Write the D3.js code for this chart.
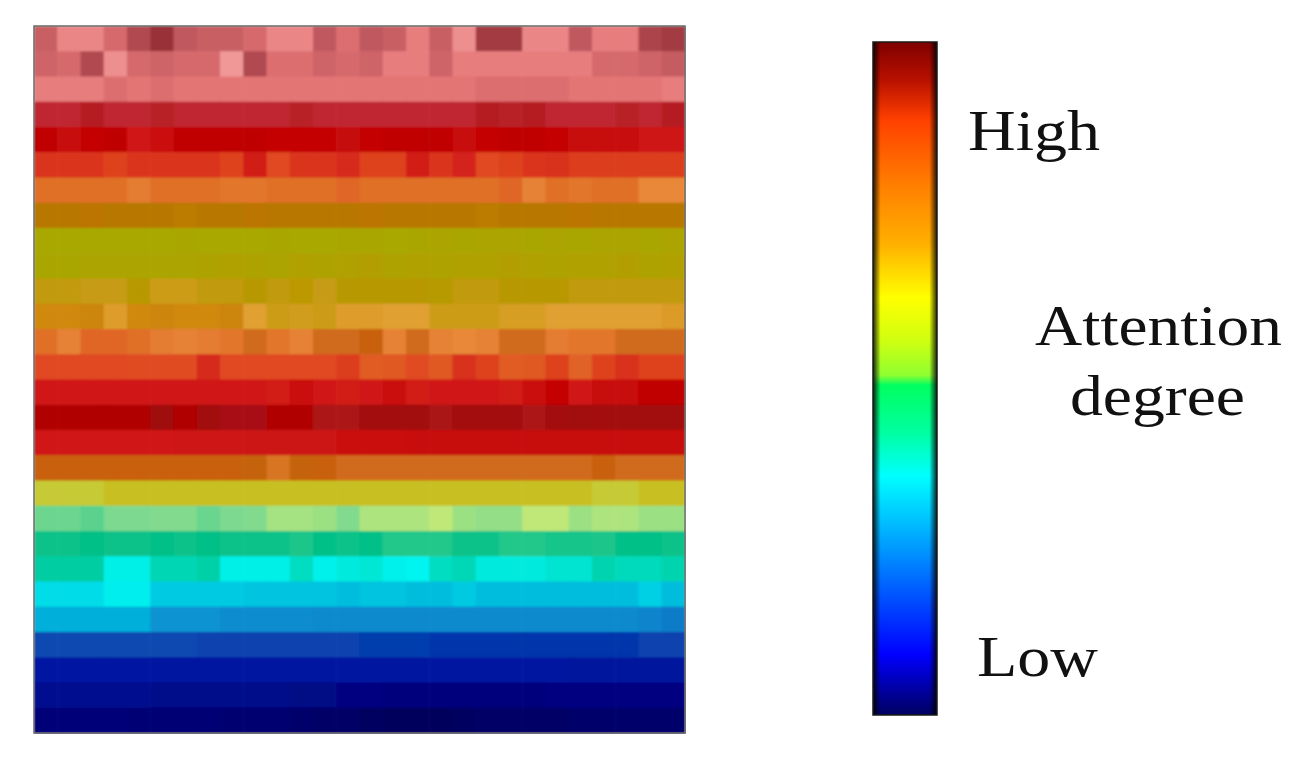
<html>

<head>
    <meta charset="utf-8">
    <title>Attention degree</title>
    <style>
        body { margin: 0; background: #ffffff; }
        text { font-family: "Liberation Serif", "DejaVu Serif", serif; fill: #111111; }
    </style>
    <script src="https://cdn.jsdelivr.net/npm/d3@7/dist/d3.min.js"></script>
</head>

<body>
    <script>
        var width = 1306;
        var height = 768;

        // one row per line, top to bottom, 28 columns each (attention value 0-100)
        var cellValues = [
            [92,98,98,94,89.5,87,91,92,92,94,98,98,91,95,91,92,97,92,99,88,88,98,98,91,97,97,89,88],
            [93,94,89.5,99,94,93,94,94,100,89.5,95,95,93,94,93,97,97,93,97,97,97,97,97,97,94,94,93,91.5],
            [97,97,97,95,96,95,96,96,96,96,96,96,96,96,96,96,96,96,96,95,95,95,95,96,96,96,96,97],
            [85,85,84.3,85,85,84.5,85,85,85,85,85,84.5,85,85,85,85,85,85,85,84.3,84.5,84.3,85,85,85,84.5,85,84.3],
            [80,78,79,80,76,77.5,80,80,80,80,79,79,79,78.5,79,80,80,80,78,79,80,80,79,78,78,78,76.5,76.5],
            [73.5,73.5,73.5,72.5,73.5,73.5,73.5,73.5,72.5,75.5,72,73.5,73.5,74.5,72.5,72.5,75.5,73.5,75,72,72.5,73.5,74,73,73,73,73,73],
            [70,70,70,70,69,70,70,70,69.5,69.5,70,70,70,70.5,70,70,70,70,70,70,70.5,68.5,70,69.5,70,70,68,68],
            [63,63,63.5,63,63,63,62.5,63,63,63.5,63,63,63,63,63.5,63,63,63,63,62.5,63,63,63,63.5,63,63,63,63],
            [48,48,48,48,48,48,48.5,48,48,48,48.5,48,48,48.5,48.5,48,48.5,49,48.5,49,49,48.5,49,48.5,49,49,48.5,49],
            [48.5,48.5,49,49,49,49,49,49.5,50,49.5,49,50,49.5,50,50.5,49.5,50,49.5,50,50,50.5,50,49.5,50,50,50.5,49.5,50],
            [53,53,53.5,53.5,52,54,54,53,53,52,53,52.5,53.5,52,52,52,52,51.5,53,53,52,52,52,53,53,53,53,53],
            [60,60,60.5,56.5,60,60.5,60,60,60.5,56,54,54.5,54,56.5,56.5,56,56,54,54,54,55,55,56,56,56,56,56,57],
            [70,68.5,70.5,70.5,70,69,68.5,69,69.5,66.5,69.5,68.5,66.5,66.5,66,68.5,66.5,68.5,68,68.5,66.5,66.5,69,69.5,69.5,66.5,66.5,66.5],
            [72,72,72,72,71.8,71.8,71.8,74.5,72,72,72,72,72,73,71,71.2,71.8,71.2,74,72.5,71,71.2,72.5,70.7,72.5,74,72.5,72.5],
            [76,76,76,76,76,76,76,76,76,76,75.5,77.5,76,75.5,76,77.5,75.5,76,76,76,75.5,77.5,79,76,78,78,80,80],
            [81.5,81.5,81.5,81.5,81.5,83,81.5,82.8,83.5,83.5,81.5,81.5,83.8,83.8,83.2,83.2,82.8,83.6,83.2,83.2,83.2,83.8,83.2,82.8,83.2,82.8,82.8,82.8],
            [76,76,76,76,76,76,76.5,76.5,76.5,77,77,77,77,77.5,77.5,77.5,78,78,78,78,78,78,78,78,78,78,78,78],
            [66,66,66,66,66,66,66,66,66,65.5,67,65.5,66,66.5,66.5,66.5,66.5,66.5,66.5,66.5,66.5,66.5,66.5,66.5,66,66.5,66.5,66.5],
            [43,43,43,44,44,44,44,44,44,44,44,44,44,44,44,44,44,44,44,44,44,44,44,44,43,43,44,44],
            [35.6,35.6,35,36.2,36.2,36.5,36.5,35.5,36.2,36.5,38.5,38.5,38,36.5,39,39,39,40,38,37.5,37.5,40,40,38,39,39,38,38],
            [32.3,32.3,32,32.3,32.3,32,32.3,32,32.3,32.3,32.3,33,32,32.3,32,33.2,33.2,33.2,32.3,32.3,33.2,33.2,32.8,32.8,33,32,32,32.3],
            [31,31,31,28.3,28.3,30.3,30.3,30.8,28.3,28.3,28.3,29.8,28.2,28.7,29,28.2,28,29.8,30.2,28.7,28.7,28.7,29.2,29.2,30.5,30,30,30.5],
            [26,26,26,27.5,27.5,24.5,24.5,24.5,24.5,24,24,24,24,23.5,24,24,23.5,23.5,24.5,23.5,23.5,23.5,23.5,23.5,23.5,23.5,25,23.5],
            [22.5,22.5,22.5,22.5,22.5,20.5,20.5,20.5,20,20,20,20,19.8,19.8,19.8,19.8,19.8,19.8,19.8,19.8,19.8,19.8,19.8,19.8,19.8,19.8,19.5,19],
            [16,16,16,16,16,16,16,15.5,15.5,15.5,15.5,15.5,15.5,15.5,15,15,15,14.5,14.5,14.5,14.5,14.5,14.5,14.5,14.5,14.5,15.5,15.5],
            [11.5,11.5,11.5,11.5,11.5,11,11,11,11,11,11,11,11,11,11,11,11,11,11,11,11,11,11,10.5,10.5,10.5,10.5,10.5],
            [7.5,7.5,7.5,7.5,7.5,7,7,7,7,7,7,6.5,6.5,6,6,5.5,5.5,5.5,5.5,5.5,5.5,5.5,6,6,6,6,6,6],
            [5,5,5,5,4.5,4.5,4.5,4.5,4,4,4,3.5,3,3,2.5,2,2,2,2.5,3,3,3,3,3.5,3.5,3.5,3.5,3.5]
        ];

        // value -> colour of the heat map cells
        var heatStops = [0, 4, 8, 12, 16, 20, 24, 28, 32, 36, 40, 44, 48, 52, 56, 60, 63, 66, 68, 70, 72, 76, 78, 80, 83, 85, 87, 91, 96, 100];
        var heatColors = ["#000048", "#000070", "#000c92", "#0018a4", "#0848b0", "#0a8cd0", "#00c4e0", "#00f4f0",
            "#00c088", "#78d890", "#c0e878", "#c8c020", "#a8a800", "#b89800", "#e0a030", "#d08810", "#b87800",
            "#c86010", "#e88838", "#e07028", "#e04820", "#d01818", "#c80c0c", "#c00000", "#a00808", "#c02830",
            "#983038", "#c05860", "#e47474", "#f09898"];

        // colour bar, 0 = top (high) .. 1 = bottom (low)
        var barOffsets = [0, 0.056, 0.116, 0.215, 0.30, 0.38, 0.443, 0.495, 0.51, 0.58, 0.645, 0.712, 0.81, 0.91, 1];
        var barColors = ["#800000", "#b81000", "#ff4000", "#ff8000", "#ffb000", "#ffff00", "#d0ff10", "#90ff30",
            "#00ff60", "#00ffa0", "#00ffff", "#00c0ff", "#0060ff", "#0000ff", "#000060"];

        var labels = ["High", "Attention", "degree", "Low"];

        var svg = d3.select("body")
            .append("svg")
            .attr("width", width)
            .attr("height", height);

        var nRows = cellValues.length;
        var nCols = cellValues[0].length;

        var x = d3.scaleBand().domain(d3.range(nCols)).range([34, 685]);
        var y = d3.scaleBand().domain(d3.range(nRows)).range([26, 733]);
        var color = d3.scaleLinear().domain(heatStops).range(heatColors).interpolate(d3.interpolateRgb);

        var cells = [];
        cellValues.forEach(function (row, r) {
            row.forEach(function (v, c) {
                cells.push({ r: r, c: c, v: v });
            });
        });

        var defs = svg.append("defs");

        // the source picture is soft, blur the cells a little
        defs.append("filter")
            .attr("id", "soft")
            .attr("x", 0).attr("y", 0).attr("width", 1).attr("height", 1)
            .append("feGaussianBlur")
            .attr("stdDeviation", 0.9)
            .attr("edgeMode", "duplicate");

        var heat = svg.append("g").attr("filter", "url(#soft)");
        heat.selectAll("rect")
            .data(cells)
            .enter()
            .append("rect")
            .attr("x", d => x(d.c))
            .attr("y", d => y(d.r))
            .attr("width", x.bandwidth() + 0.6)
            .attr("height", y.bandwidth() + 0.6)
            .attr("fill", d => color(d.v));

        svg.append("rect")
            .attr("x", 34)
            .attr("y", 26)
            .attr("width", 651)
            .attr("height", 707)
            .attr("fill", "none")
            .attr("stroke", "#6a6a6a")
            .attr("stroke-width", 1.5);

        // colour bar
        var grad = defs.append("linearGradient")
            .attr("id", "bar")
            .attr("x1", 0).attr("y1", 0)
            .attr("x2", 0).attr("y2", 1);
        grad.selectAll("stop")
            .data(barOffsets)
            .enter()
            .append("stop")
            .attr("offset", d => d)
            .attr("stop-color", (d, i) => barColors[i]);

        var edge = defs.append("linearGradient")
            .attr("id", "edge")
            .attr("x1", 0).attr("y1", 0)
            .attr("x2", 1).attr("y2", 0);
        [[0, 0.85], [0.12, 0], [0.88, 0], [1, 0.85]].forEach(function (s) {
            edge.append("stop").attr("offset", s[0]).attr("stop-color", "#000").attr("stop-opacity", s[1]);
        });

        var barX = 873, barY = 42, barW = 64, barH = 673;
        svg.append("rect")
            .attr("x", barX).attr("y", barY)
            .attr("width", barW).attr("height", barH)
            .attr("fill", "url(#bar)");
        svg.append("rect")
            .attr("x", barX).attr("y", barY)
            .attr("width", barW).attr("height", barH)
            .attr("fill", "url(#edge)")
            .attr("stroke", "#1a1a1a")
            .attr("stroke-width", 1.5);

        // labels
        var labelPos = [[968, 150, 132], [1035, 345, 247], [1070, 415, 175], [977, 676, 121]];
        svg.selectAll("text.lab")
            .data(labels)
            .enter()
            .append("text")
            .attr("class", "lab")
            .attr("x", (d, i) => labelPos[i][0])
            .attr("y", (d, i) => labelPos[i][1])
            .attr("font-size", 58)
            .attr("textLength", (d, i) => labelPos[i][2])
            .attr("lengthAdjust", "spacingAndGlyphs")
            .text(d => d);
    </script>
</body>

</html>
